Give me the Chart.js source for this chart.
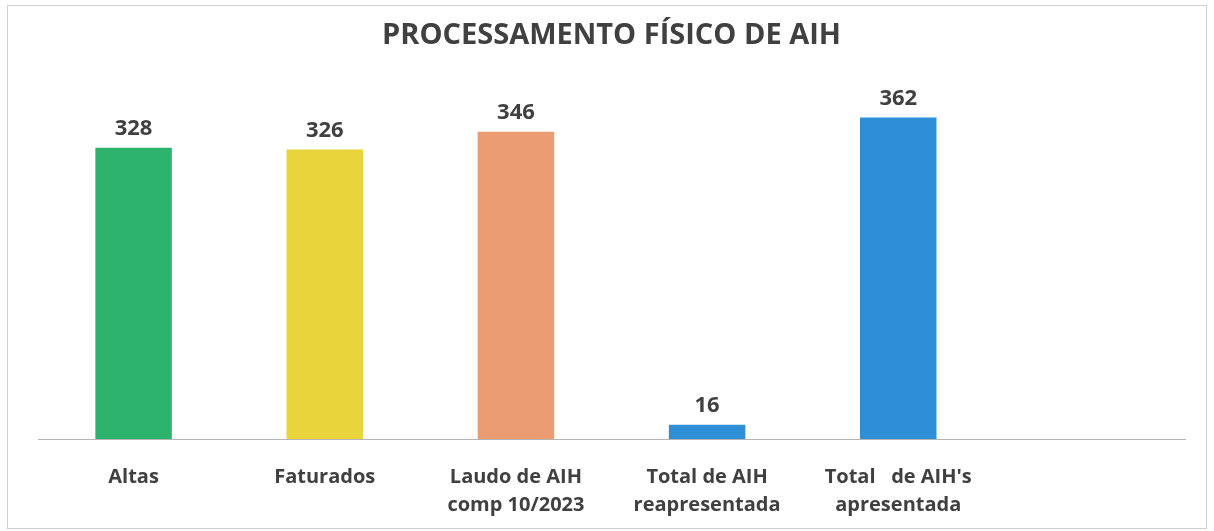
<!DOCTYPE html>
<html>
<head>
<meta charset="utf-8">
<script src="https://cdn.jsdelivr.net/npm/chart.js@4"></script>
<style>
  html, body { margin: 0; padding: 0; background: #fff; }
  #wrap { position: relative; width: 1214px; height: 531px; }
  #frame { position: absolute; left: 7px; top: 5px; width: 1198px; height: 522px; border: 1px solid #cfcfcf; pointer-events: none; }
</style>
</head>
<body>
<div id="wrap">
  <canvas id="aihChart" width="1214" height="531"></canvas>
  <div id="frame"></div>
</div>
<script>
const categories = [
    "Altas",
    "Faturados",
    ["Laudo de AIH", "comp 10/2023"],
    ["Total de AIH", "reapresentada"],
    ["Total   de AIH's", "apresentada"],
    ""
];
const values = [328, 326, 346, 16, 362, null];
const barColors = ["#2db36b", "#e8d53c", "#eb9c72", "#2f8fd6", "#2f8fd6", "#2f8fd6"];

const FONT = "'Open Sans', sans-serif";

// draw the numbers above each bar
const valueLabels = {
    id: "valueLabels",
    afterDatasetsDraw(chart) {
        const ctx = chart.ctx;
        const meta = chart.getDatasetMeta(0);
        ctx.save();
        ctx.fillStyle = "#404040";
        ctx.font = "bold 22px " + FONT;
        ctx.textAlign = "center";
        ctx.textBaseline = "bottom";
        meta.data.forEach((bar, i) => {
            if (values[i] == null) return;
            ctx.fillText(values[i], bar.x, bar.y - 8);
        });
        ctx.restore();
    }
};

document.addEventListener("DOMContentLoaded", () => {
    const ctx = document.getElementById("aihChart");
    new Chart(ctx, {
        type: "bar",
        data: {
            labels: categories,
            datasets: [{
                data: values,
                backgroundColor: barColors,
                borderWidth: 0,
                categoryPercentage: 0.8,
                barPercentage: 0.5
            }]
        },
        options: {
            responsive: false,
            animation: false,
            layout: { padding: { left: 38, right: 29, top: 0, bottom: 0 } },
            plugins: {
                legend: { display: false },
                tooltip: { enabled: false },
                title: {
                    display: true,
                    text: "PROCESSAMENTO FÍSICO DE AIH",
                    color: "#404040",
                    font: { family: FONT, size: 29, weight: "bold" },
                    padding: { top: 18, bottom: 31 }
                }
            },
            scales: {
                y: {
                    display: false,
                    min: 0,
                    max: 400
                },
                x: {
                    grid: { display: false, drawTicks: false },
                    border: { display: true, color: "#b5b5b5", width: 1 },
                    afterFit: (scale) => { scale.height = 92; },
                    ticks: {
                        color: "#404040",
                        padding: 24,
                        maxRotation: 0,
                        autoSkip: false,
                        font: { family: FONT, size: 20, weight: "bold", lineHeight: 1.4 }
                    }
                }
            }
        },
        plugins: [valueLabels]
    });
});
</script>
</body>
</html>
